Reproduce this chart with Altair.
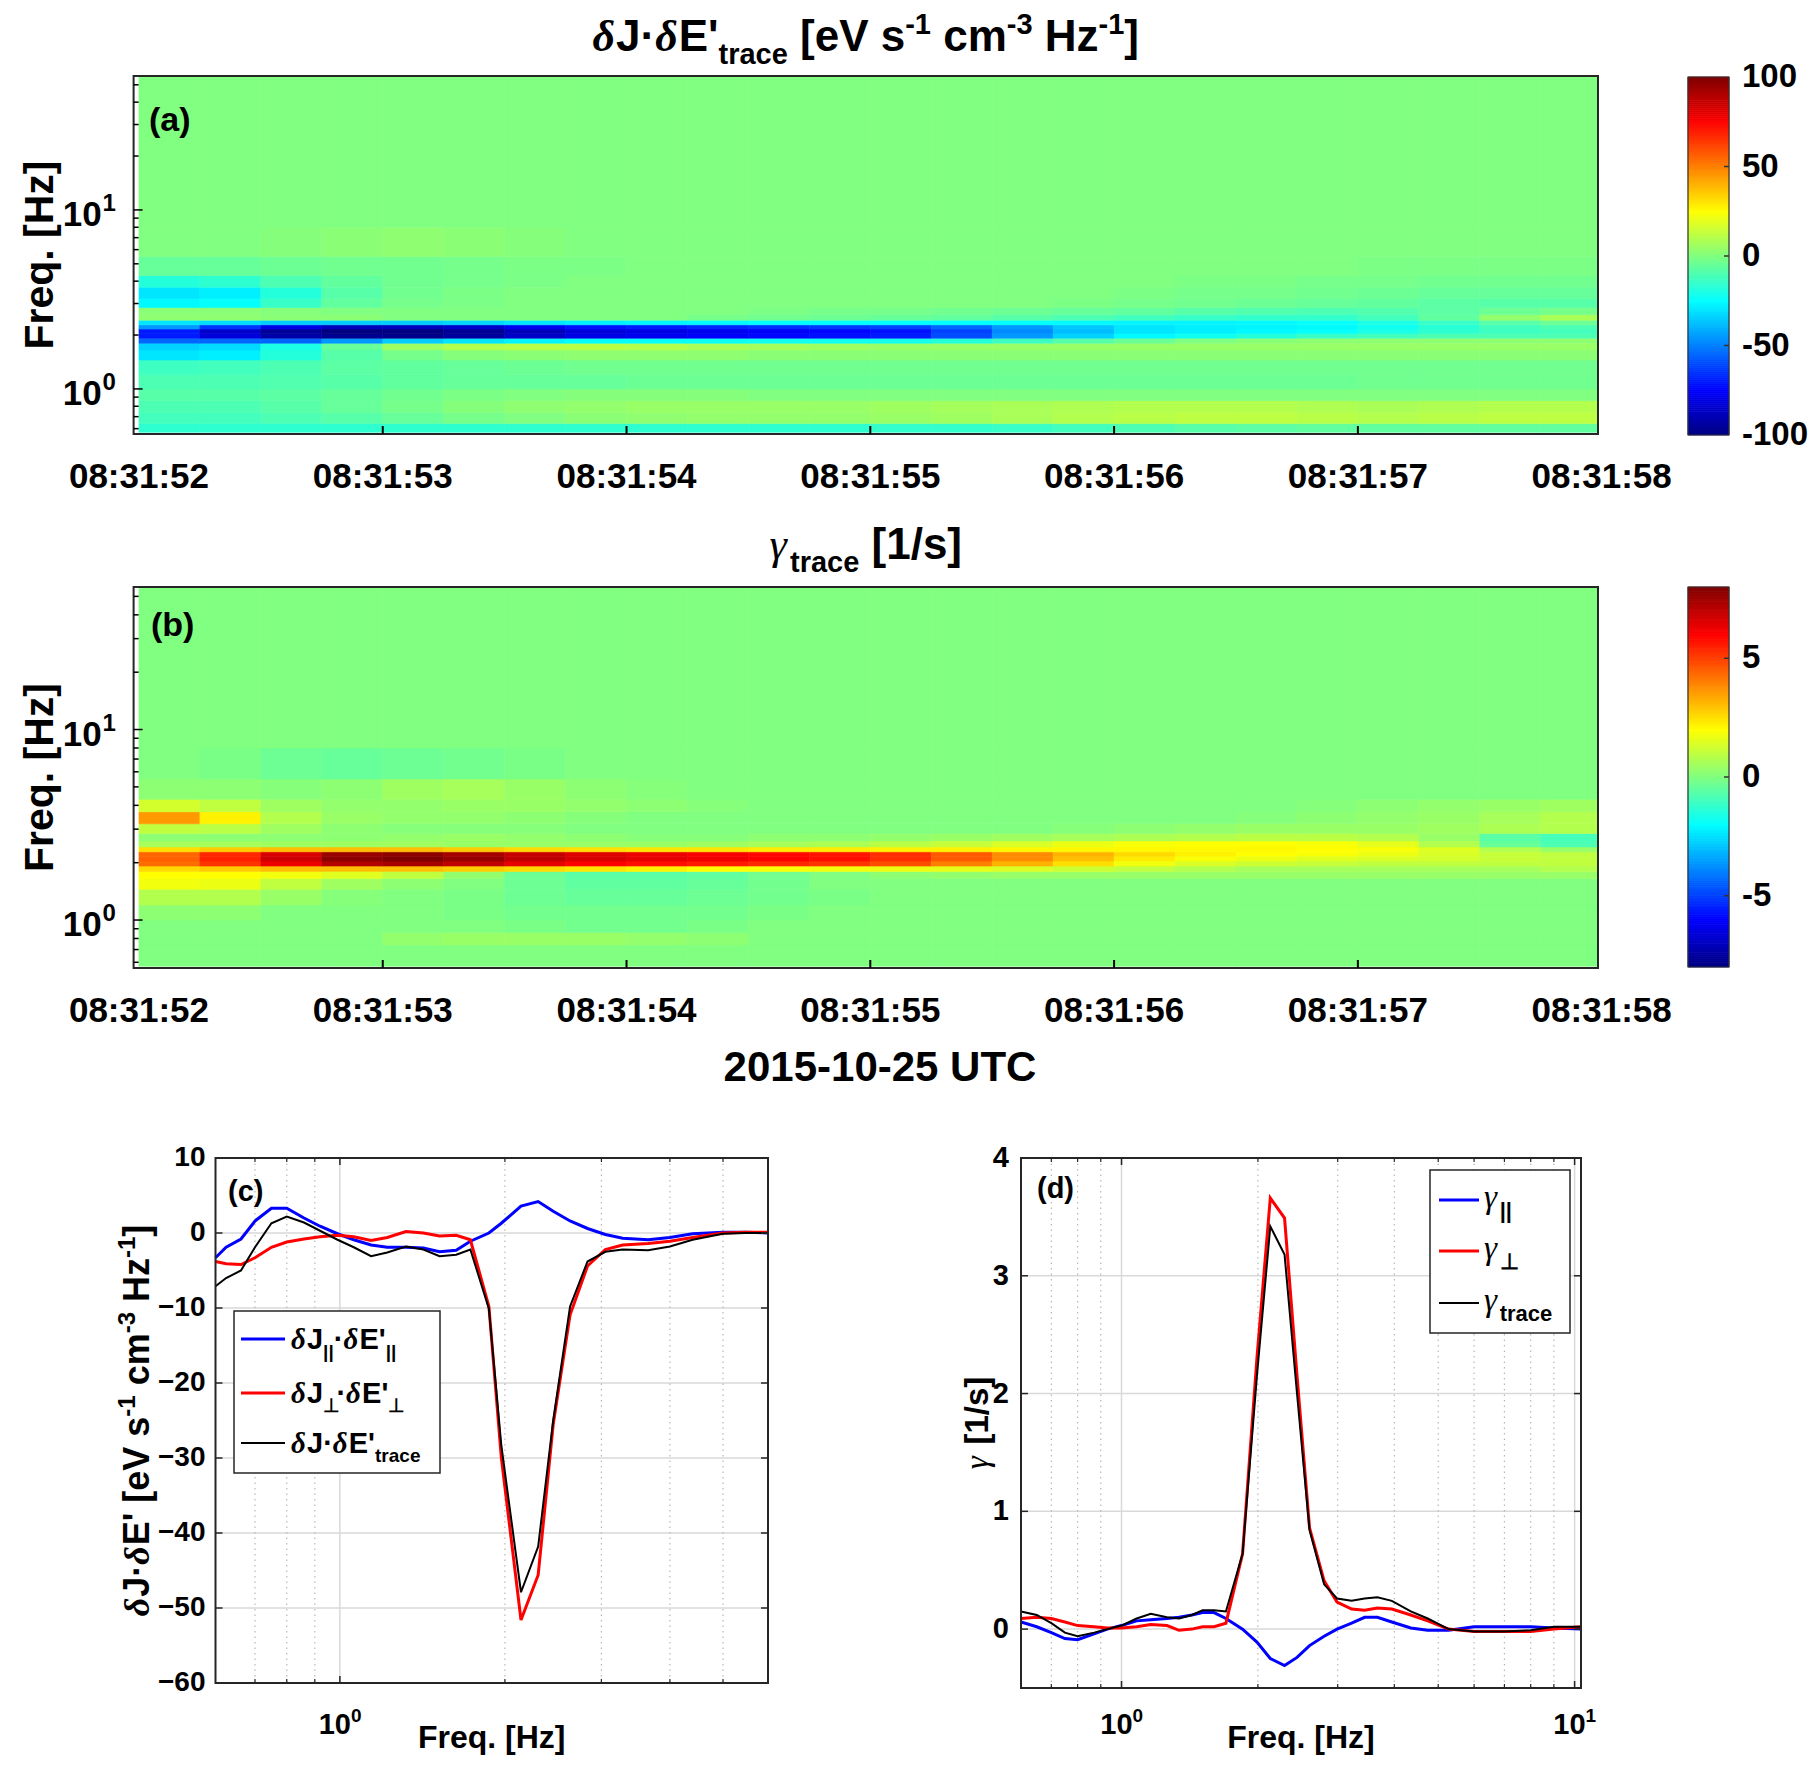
import altair as alt

FONT = "Liberation Sans, Arial, Helvetica, sans-serif"
SERIF = "Liberation Serif, Times New Roman, serif"
CW, CH = 1800, 1760

# ---------------------------------------------------------------- data
T_EDGES = [52.0, 52.25, 52.5, 52.75, 53.0, 53.25, 53.5, 53.75, 54.0, 54.25, 54.5, 54.75,
           55.0, 55.25, 55.5, 55.75, 56.0, 56.25, 56.5, 56.75, 57.0, 57.25, 57.5, 57.75, 57.985]
F_EDGES = [0.572, 0.64, 0.74, 0.86, 1.0, 1.2, 1.45, 1.65, 1.8, 1.92, 2.04, 2.16, 2.28,
           2.42, 2.6, 2.85, 3.2, 3.7, 4.3, 5.5, 8.0, 56.0]

# (a) dJ.dE' trace spectrogram, rows = frequency bins (low -> high), cols = time bins
A_ROWS = [
    [-16, -16, -16, -16, -16, -16, -16, -16, -16, -16, -16, -16, -15, -15, -14, -12, -10, -8, -7, -6, -6, -6, -6, -6],
    [-12, -12, -10, -8, -5, -2, 0, 2, 3, 4, 4, 4, 5, 6, 8, 10, 11, 12, 12, 11, 10, 11, 12, 12],
    [-10, -10, -8, -5, -2, 1, 3, 4, 5, 5, 5, 5, 6, 7, 8, 9, 10, 10, 10, 9, 8, 9, 10, 10],
    [-8, -8, -7, -5, -3, -1, 0, 1, 1, 1, 0, 0, 0, 0, 0, 0, 0, 0, 0, 0, 0, 0, 0, 0],
    [-10, -10, -9, -8, -6, -5, -5, -5, -4, -4, -4, -4, -4, -4, -4, -4, -4, -4, -4, -4, -3, -3, -3, -3],
    [-13, -12, -10, -7, -6, -5, -4, -3, -3, -3, -3, -3, -3, -3, -3, -3, -3, -3, -3, -3, -3, -3, -3, -3],
    [-30, -28, -18, -8, -2, 1, 2, 3, 3, 3, 2, 2, 2, 2, 2, 2, 2, 2, 2, 2, 2, 2, 2, 2],
    [-34, -32, -20, -5, 6, 10, 11, 11, 10, 8, 7, 6, 5, 5, 5, 5, 5, 5, 5, 5, 5, 5, 5, 5],
    [-55, -55, -55, -45, -35, -30, -27, -25, -24, -23, -22, -22, -21, -18, -13, -8, -4, 0, 2, 3, 3, 3, 3, 3],
    [-70, -82, -92, -97, -98, -94, -86, -80, -78, -76, -74, -72, -70, -60, -45, -34, -26, -22, -18, -14, -12, -10, -10, -10],
    [-70, -85, -95, -100, -100, -96, -88, -82, -80, -78, -76, -74, -72, -62, -48, -38, -30, -28, -26, -24, -20, -16, -13, -12],
    [-45, -65, -80, -88, -88, -85, -78, -72, -70, -68, -66, -64, -62, -55, -45, -36, -30, -28, -27, -26, -22, -17, -12, -10],
    [-30, -32, -35, -35, -35, -33, -30, -28, -27, -26, -25, -25, -25, -25, -25, -26, -27, -27, -26, -24, -20, -14, -8, -4],
    [3, 3, 2, 2, 0, 0, 0, 0, 0, -2, -3, -4, -5, -6, -8, -10, -12, -14, -15, -15, -12, -6, 4, 8],
    [2, 2, 1, 0, 0, 0, 0, 0, 0, 0, -1, -2, -2, -3, -4, -5, -6, -8, -9, -10, -9, -7, -4, -2],
    [-26, -24, -14, -6, -2, -1, 0, 0, 0, 0, 0, 0, 0, 0, 0, -1, -2, -3, -4, -5, -6, -7, -8, -8],
    [-30, -28, -18, -8, -3, -1, 0, 0, 0, 0, 0, 0, 0, 0, 0, 0, -1, -2, -2, -3, -4, -5, -5, -5],
    [-18, -16, -10, -6, -3, -2, -1, 0, 0, 0, 0, 0, 0, 0, 0, 0, 0, -1, -1, -2, -2, -3, -3, -3],
    [-5, -5, -4, -3, -3, -2, -1, -1, 0, 0, 0, 0, 0, 0, 0, 0, 0, 0, 0, 0, -1, -1, -1, -1],
    [0, 0, 1, 2, 3, 2, 1, 0, 0, 0, 0, 0, 0, 0, 0, 0, 0, 0, 0, 0, 0, 0, 0, 0],
    [0, 0, 0, 0, 0, 0, 0, 0, 0, 0, 0, 0, 0, 0, 0, 0, 0, 0, 0, 0, 0, 0, 0, 0],
]

# (b) gamma trace spectrogram
B_ROWS = [
    [0] * 24,
    [0] * 24,
    [0, 0, 0, 0, 0.3, 0.4, 0.4, 0.4, 0.3, 0.2, 0, 0, 0, 0, 0, 0, 0, 0, 0, 0, 0, 0, 0, 0],
    [0, 0, 0, 0, 0, 0, -0.1, -0.2, -0.2, -0.1, 0, 0, 0, 0, 0, 0, 0, 0, 0, 0, 0, 0, 0, 0],
    [0.2, 0.2, 0, 0, 0, -0.1, -0.2, -0.2, -0.2, -0.2, -0.1, 0, 0, 0, 0, 0, 0, 0, 0, 0, 0, 0, 0, 0],
    [0.8, 0.8, 0.4, 0.1, 0, -0.1, -0.3, -0.4, -0.4, -0.3, -0.2, -0.1, 0, 0, 0, 0, 0, 0, 0, 0, 0, 0, 0, 0],
    [1.8, 1.7, 1.0, 0.5, 0.2, 0, -0.3, -0.5, -0.5, -0.4, -0.2, 0, 0, 0, 0, 0, 0, 0, 0, 0, 0, 0, 0, 0],
    [2.0, 2.0, 1.8, 1.5, 1.0, 0.3, -0.3, -0.6, -0.6, -0.5, -0.2, 0, 0.2, 0.3, 0.4, 0.4, 0.4, 0.4, 0.4, 0.4, 0.4, 0.4, 0.4, 0.4],
    [2.6, 2.8, 3.0, 3.0, 3.0, 2.8, 2.6, 2.4, 2.2, 2.0, 1.9, 1.8, 1.7, 1.6, 1.4, 1.2, 1.0, 0.8, 0.6, 0.6, 0.6, 0.6, 0.6, 0.8],
    [4.3, 5.2, 6.3, 7.2, 7.4, 7.0, 6.4, 6.0, 5.8, 5.6, 5.4, 5.2, 4.8, 4.0, 3.2, 2.5, 1.8, 1.4, 1.2, 1.1, 1.0, 1.0, 1.0, 1.0],
    [4.5, 5.5, 6.8, 7.8, 8.0, 7.6, 7.0, 6.6, 6.4, 6.2, 6.0, 5.8, 5.3, 4.6, 3.8, 3.0, 2.3, 1.9, 1.7, 1.5, 1.4, 1.3, 1.1, 1.0],
    [4.4, 5.4, 6.6, 7.6, 7.8, 7.4, 6.9, 6.5, 6.3, 6.1, 5.9, 5.7, 5.3, 4.6, 3.8, 3.2, 2.6, 2.2, 2.0, 1.9, 1.7, 1.4, 1.1, 1.0],
    [2.5, 2.8, 3.0, 3.0, 3.0, 2.8, 2.6, 2.5, 2.4, 2.4, 2.3, 2.3, 2.2, 2.2, 2.1, 2.1, 2.1, 2.1, 2.1, 2.0, 1.9, 1.5, 0.8, 0.4],
    [0.6, 0.6, 0.5, 0.5, 0.5, 0.4, 0.4, 0.4, 0.4, 0.5, 0.6, 0.7, 0.9, 1.1, 1.4, 1.7, 1.9, 2.0, 2.0, 1.9, 1.6, 0.8, -0.4, -0.8],
    [0.2, 0.2, 0.2, 0.2, 0.3, 0.4, 0.3, 0.2, 0.1, 0.1, 0.2, 0.2, 0.3, 0.4, 0.5, 0.6, 0.7, 0.8, 0.9, 0.9, 0.8, 0.4, -0.6, -0.9],
    [1.0, 0.9, 0.5, 0.2, 0.1, 0.1, 0.1, 0, 0, 0, 0, 0, 0, 0, 0, 0.1, 0.2, 0.3, 0.4, 0.4, 0.4, 0.5, 0.7, 0.8],
    [3.6, 2.2, 0.8, 0.4, 0.3, 0.3, 0.2, 0.1, 0, 0, 0, 0, 0, 0, 0, 0, 0, 0, 0.1, 0.2, 0.3, 0.4, 0.6, 0.8],
    [1.3, 1.0, 0.5, 0.3, 0.3, 0.4, 0.4, 0.3, 0.2, 0.1, 0, 0, 0, 0, 0, 0, 0, 0, 0, 0.1, 0.2, 0.3, 0.4, 0.5],
    [0.2, 0.2, 0.1, 0.2, 0.5, 0.6, 0.4, 0.2, 0.1, 0, 0, 0, 0, 0, 0, 0, 0, 0, 0, 0, 0, 0, 0, 0],
    [0, -0.1, -0.3, -0.4, -0.3, -0.2, -0.1, 0, 0, 0, 0, 0, 0, 0, 0, 0, 0, 0, 0, 0, 0, 0, 0, 0],
    [0] * 24,
]

TIME_TICKS = [52, 53, 54, 55, 56, 57, 58]
TIME_LABELS = ["08:31:52", "08:31:53", "08:31:54", "08:31:55", "08:31:56", "08:31:57", "08:31:58"]
CB_A_TICKS = [-100, -50, 0, 50, 100]
CB_B_TICKS = [-5, 0, 5]

# (c) dJ.dE' vs frequency
FREQ_C = [0.593, 0.62, 0.66, 0.70, 0.75, 0.80, 0.86, 0.92, 0.99, 1.06, 1.14, 1.22, 1.32, 1.42, 1.52, 1.63,
          1.73, 1.87, 1.97, 2.14, 2.30, 2.45, 2.63, 2.83, 3.05, 3.28, 3.65, 4.0, 4.4, 5.0, 5.5, 6.04]
PAR_C = [-3.3, -1.9, -0.8, 1.6, 3.3, 3.3, 2.0, 0.9, -0.1, -0.9, -1.6, -1.9, -1.9, -2.0, -2.5, -2.3,
         -1.1, 0.0, 1.3, 3.6, 4.2, 2.9, 1.6, 0.6, -0.2, -0.7, -0.9, -0.6, -0.1, 0.1, 0.1, 0.0]
PERP_C = [-3.8, -4.1, -4.2, -3.3, -1.9, -1.2, -0.8, -0.5, -0.3, -0.5, -1.0, -0.6, 0.2, 0.0, -0.4, -0.3,
          -0.9, -9.8, -29.9, -51.6, -45.6, -25.5, -10.9, -4.4, -2.2, -1.6, -1.4, -1.1, -0.6, 0.0, 0.1, 0.1]
TRACE_C = [-7.1, -6.0, -5.0, -1.9, 1.3, 2.2, 1.4, 0.3, -0.9, -1.9, -3.1, -2.6, -1.8, -2.2, -3.1, -2.9,
           -2.2, -10.1, -28.3, -47.9, -41.8, -25.0, -9.8, -3.8, -2.5, -2.2, -2.3, -1.8, -0.9, -0.1, 0.0, 0.0]
YC_TICKS = [10, 0, -10, -20, -30, -40, -50, -60]

# (d) gamma vs frequency
FREQ_D = [0.60, 0.65, 0.70, 0.75, 0.80, 0.87, 0.93, 1.0, 1.08, 1.16, 1.26, 1.34, 1.43, 1.51, 1.60, 1.70,
          1.85, 1.99, 2.13, 2.29, 2.44, 2.60, 2.80, 2.99, 3.22, 3.44, 3.67, 3.95, 4.35, 4.74, 5.27, 6.0,
          7.0, 8.0, 9.0, 10.33]
PAR_D = [0.06, 0.02, -0.03, -0.08, -0.09, -0.04, 0.0, 0.03, 0.07, 0.08, 0.09, 0.10, 0.12, 0.14, 0.14, 0.09,
         0.0, -0.11, -0.25, -0.31, -0.24, -0.14, -0.06, 0.0, 0.05, 0.10, 0.10, 0.06, 0.01, -0.01, -0.01, 0.02,
         0.02, 0.02, 0.01, 0.0]
PERP_D = [0.09, 0.10, 0.09, 0.06, 0.03, 0.02, 0.01, 0.01, 0.02, 0.04, 0.03, -0.01, 0.0, 0.02, 0.02, 0.05,
          0.64, 2.3, 3.66, 3.49, 2.15, 0.86, 0.41, 0.23, 0.17, 0.16, 0.18, 0.17, 0.12, 0.07, 0.0, -0.02,
          -0.02, -0.02, 0.0, 0.02]
TRACE_D = [0.15, 0.12, 0.05, -0.03, -0.06, -0.03, 0.0, 0.03, 0.09, 0.13, 0.10, 0.09, 0.12, 0.16, 0.16, 0.15,
           0.64, 2.15, 3.42, 3.18, 2.0, 0.84, 0.38, 0.26, 0.24, 0.26, 0.27, 0.24, 0.15, 0.09, 0.0, -0.02,
           -0.02, -0.01, 0.02, 0.02]
YD_TICKS = [0, 1, 2, 3, 4]

# ---------------------------------------------------------------- layout (plot px)
PA = dict(x0=125.6, x1=1590.0, y0=68.0, y1=426.0)
PB = dict(x0=125.6, x1=1590.0, y0=579.0, y1=960.0)
PC = dict(x0=207.5, x1=760.0, y0=1150.0, y1=1675.0)
PD = dict(x0=1013.0, x1=1573.0, y0=1150.0, y1=1680.0)
CBA = dict(x0=1680.0, x1=1721.0, y0=69.0, y1=427.0)
CBB = dict(x0=1680.0, x1=1721.0, y0=579.0, y1=959.0)

T_DOM = [51.978, 57.985]
F_DOM = [0.56, 56.0]
XC_DOM, YC_DOM = [0.593, 6.04], [-60, 10]
XD_DOM, YD_DOM = [0.60, 10.33], [-0.5, 4]

JET = ["#000080", "#0000ff", "#00ffff", "#80ff80", "#ffff00", "#ff0000", "#800000"]
FRAME = "#262626"
GRID = "#d9d9d9"
MINOR = "#b8b8b8"


def lin(dom, r0, r1):
    return alt.Scale(domain=dom, range=[r0, r1], nice=False, zero=False)


def logs(dom, r0, r1):
    return alt.Scale(type="log", domain=dom, range=[r0, r1], nice=False)


def tscale(P):
    return lin(T_DOM, P["x0"], P["x1"])


def fscale(P):
    return logs(F_DOM, P["y1"], P["y0"])


CS_A = alt.Scale(domain=[-100, -75, -25, 0, 25, 75, 100], range=JET, interpolate="rgb", clamp=True)
CS_B = alt.Scale(domain=[-8, -6, -2, 0, 2, 6, 8], range=JET, interpolate="rgb", clamp=True)
XS_C, YS_C = logs(XC_DOM, PC["x0"], PC["x1"]), lin(YC_DOM, PC["y1"], PC["y0"])
XS_D, YS_D = logs(XD_DOM, PD["x0"], PD["x1"]), lin(YD_DOM, PD["y1"], PD["y0"])

# ---------------------------------------------------------------- text helpers
BOLD_W = {' ': 278, '[': 333, ']': 333, '(': 333, ')': 333, '-': 333, '.': 278, '/': 278, ':': 333,
          "'": 238, '·': 333, '|': 280, 'a': 556, 'c': 556, 'e': 556, 'm': 889, 'r': 389, 's': 556,
          't': 333, 'z': 500, 'q': 611, 'i': 278, 'E': 667, 'F': 611, 'H': 722, 'J': 556, 'V': 667,
          'U': 722, 'T': 611, 'C': 722, '⊥': 700}
SERIF_W = {'γ': 430, 'δ': 500}

TEXT_ROWS = {}


def text_w(s, size, font):
    if font == SERIF:
        return sum(SERIF_W.get(c, 500) for c in s) * size / 1000.0
    return sum(BOLD_W.get(c, 556) for c in s) * size / 1000.0


def add_text(s, x, y, size, weight="bold", style="normal", angle=0, font=FONT):
    TEXT_ROWS.setdefault((size, weight, style, angle, font), []).append({"x": x, "y": y, "s": s})


def G(kind="n", weight="normal"):
    return ("γ", kind, weight, "italic", SERIF)


def D(weight="bold"):
    return ("δ", "n", weight, "italic", SERIF)


def compose(pieces, S, ax, ay, align="center", angle=0, small=None):
    """Lay out a run of text pieces (normal / subscript / superscript) side by side."""
    small = small or round(S * 0.66)
    items, total = [], 0.0
    for p in pieces:
        txt, kind = p[0], p[1]
        weight = p[2] if len(p) > 2 else "bold"
        style = p[3] if len(p) > 3 else "normal"
        font = p[4] if len(p) > 4 else FONT
        size = S if kind == "n" else small
        off = 0.0 if kind == "n" else (0.30 * S if kind == "sub" else -0.38 * S)
        lead = len(txt) - len(txt.lstrip(" "))
        trail = len(txt) - len(txt.rstrip(" "))
        core = txt.strip(" ")
        sp = text_w(" ", size, FONT)
        total += lead * sp
        items.append((core, size, weight, style, font, off, total))
        total += text_w(core, size, font) + trail * sp + (1.5 if style == "italic" else 0)
    start = -total / 2 if align == "center" else (0.0 if align == "left" else -total)
    for txt, size, weight, style, font, off, pos in items:
        if angle == 0:
            add_text(txt, ax + start + pos, ay + off, size, weight, style, 0, font)
        else:
            add_text(txt, ax + off, ay - (start + pos), size, weight, style, angle, font)


def text_layers():
    out = []
    for (size, weight, style, angle, font), rows in TEXT_ROWS.items():
        kw = dict(align="left", baseline="alphabetic", font=font, fontSize=size,
                  fontWeight=weight, fontStyle=style, color="black")
        if angle:
            kw["angle"] = angle
        out.append(alt.Chart(alt.Data(values=rows)).mark_text(**kw).encode(
            x=alt.X("x:Q", scale=None, axis=None), y=alt.Y("y:Q", scale=None, axis=None), text="s:N"))
    return out


def one():
    return alt.Data(values=[{"k": 0}])


def frame(P, width=2.0, fill="transparent", color=FRAME):
    return alt.Chart(one()).mark_rect(fill=fill, stroke=color, strokeWidth=width).encode(
        x=alt.value(P["x0"]), x2=alt.value(P["x1"]), y=alt.value(P["y0"]), y2=alt.value(P["y1"]))


def vrules(vals, xs, y0, y1, color, width, dash=None):
    kw = dict(color=color, strokeWidth=width)
    if dash:
        kw["strokeDash"] = dash
    return alt.Chart(alt.Data(values=[{"v": v} for v in vals])).mark_rule(**kw).encode(
        x=alt.X("v:Q", scale=xs, axis=None), y=alt.value(y0), y2=alt.value(y1))


def hrules(vals, ys, x0, x1, color, width, dash=None):
    kw = dict(color=color, strokeWidth=width)
    if dash:
        kw["strokeDash"] = dash
    return alt.Chart(alt.Data(values=[{"v": v} for v in vals])).mark_rule(**kw).encode(
        y=alt.Y("v:Q", scale=ys, axis=None), x=alt.value(x0), x2=alt.value(x1))


def spec(rows, P, cs):
    recs = [dict(t0=T_EDGES[j], t1=T_EDGES[j + 1], f0=F_EDGES[i], f1=F_EDGES[i + 1], v=v)
            for i, row in enumerate(rows) for j, v in enumerate(row)]
    return alt.Chart(alt.Data(values=recs)).mark_rect(strokeWidth=0.6).encode(
        x=alt.X("t0:Q", scale=tscale(P), axis=None), x2="t1:Q",
        y=alt.Y("f0:Q", scale=fscale(P), axis=None), y2="f1:Q",
        color=alt.Color("v:Q", scale=cs, legend=None),
        stroke=alt.Stroke("v:Q", scale=cs, legend=None))


def colorbar(CB, cs, cdom, ticks, n=180):
    """Colour bar: thin strips sampled through the panel's own colour scale."""
    lo, hi = cdom
    step = (hi - lo) / n
    recs = [{"a": lo + k * step, "b": lo + (k + 1) * step, "m": lo + (k + 0.5) * step} for k in range(n)]
    ys = lin(cdom, CB["y1"], CB["y0"])
    out = [alt.Chart(alt.Data(values=recs)).mark_rect(strokeWidth=0.8).encode(
        x=alt.value(CB["x0"]), x2=alt.value(CB["x1"]),
        y=alt.Y("a:Q", scale=ys, axis=None), y2="b:Q",
        color=alt.Color("m:Q", scale=cs, legend=None),
        stroke=alt.Stroke("m:Q", scale=cs, legend=None))]
    out.append(frame(CB, 1.2, "transparent", "#333333"))
    out.append(hrules([t for t in ticks if lo < t < hi], ys, CB["x1"] - 5, CB["x1"], "#333333", 1.5))
    out.append(alt.Chart(alt.Data(values=[{"v": t, "s": str(t)} for t in ticks])).mark_text(
        align="left", baseline="middle", font=FONT, fontSize=33, fontWeight="bold", color="black").encode(
        x=alt.value(CB["x1"] + 13), y=alt.Y("v:Q", scale=ys, axis=None), text="s:N"))
    return out


def line(freqs, vals, xs, ys, color, width):
    return alt.Chart(alt.Data(values=[{"f": f, "v": v} for f, v in zip(freqs, vals)])).mark_line(
        color=color, strokeWidth=width).encode(
        x=alt.X("f:Q", scale=xs, axis=None), y=alt.Y("v:Q", scale=ys, axis=None))


L = []

# ---------------------------------------------------------------- spectrogram panels
F_MINOR = [0.6, 0.7, 0.8, 0.9, 2, 3, 4, 5, 6, 7, 8, 9, 20, 30, 40, 50]
F_MAJOR = [1, 10]
for P, rows, cs, CB, cticks, cdom, tick_base in [
        (PA, A_ROWS, CS_A, CBA, CB_A_TICKS, [-100, 100], 480),
        (PB, B_ROWS, CS_B, CBB, CB_B_TICKS, [-8, 8], 1014)]:
    L.append(spec(rows, P, cs))
    L.append(frame(P, 2.0))
    ys = fscale(P)
    L.append(hrules(F_MINOR, ys, P["x0"], P["x0"] + 5, "black", 1.5))
    L.append(hrules(F_MAJOR, ys, P["x0"], P["x0"] + 9, "black", 1.5))
    L.append(vrules(TIME_TICKS[1:-1], tscale(P), P["y1"], P["y1"] - 8, "black", 2))
    L.append(alt.Chart(alt.Data(values=[{"t": t, "s": s} for t, s in zip(TIME_TICKS, TIME_LABELS)])).mark_text(
        align="center", baseline="alphabetic", font=FONT, fontSize=35, fontWeight="bold", color="black").encode(
        x=alt.X("t:Q", scale=tscale(P), axis=None), y=alt.value(tick_base), text="s:N"))
    fl = [{"f": 1, "b": "10", "e": "0"}, {"f": 10, "b": "10", "e": "1"}]
    L.append(alt.Chart(alt.Data(values=fl)).mark_text(
        align="right", baseline="alphabetic", font=FONT, fontSize=35, fontWeight="bold", color="black", dy=16).encode(
        x=alt.value(P["x0"] - 32), y=alt.Y("f:Q", scale=ys, axis=None), text="b:N"))
    L.append(alt.Chart(alt.Data(values=fl)).mark_text(
        align="left", baseline="alphabetic", font=FONT, fontSize=24, fontWeight="bold", color="black", dy=1).encode(
        x=alt.value(P["x0"] - 31), y=alt.Y("f:Q", scale=ys, axis=None), text="e:N"))
    L.extend(colorbar(CB, cs, cdom, cticks))
    compose([("Freq. [Hz]", "n")], 41, 45, (P["y0"] + P["y1"]) / 2, angle=270)

cx = (PA["x0"] + PA["x1"]) / 2
compose([D(), ("J·", "n"), D(), ("E'", "n"),
         ("trace", "sub"), (" [eV s", "n"), ("-1", "sup"), (" cm", "n"), ("-3", "sup"),
         (" Hz", "n"), ("-1", "sup"), ("]", "n")], 44, cx, 43)
compose([G(), ("trace", "sub"), (" [1/s]", "n")], 44, cx, 551)
compose([("2015-10-25 UTC", "n")], 42, 872, 1073)
add_text("(a)", 141, 123, 34)
add_text("(b)", 143, 628, 34)

# ---------------------------------------------------------------- panel (c)
C_MINOR = [0.7, 0.8, 0.9, 2, 3, 4, 5]
inner_c = [v for v in YC_TICKS if YC_DOM[0] < v < YC_DOM[1]]
L.append(hrules(inner_c, YS_C, PC["x0"], PC["x1"], GRID, 1.5))
L.append(vrules([1], XS_C, PC["y0"], PC["y1"], GRID, 1.5))
L.append(vrules(C_MINOR, XS_C, PC["y0"], PC["y1"], MINOR, 1.2, [1.5, 4]))
L.append(line(FREQ_C, PAR_C, XS_C, YS_C, "#0000ff", 3))
L.append(line(FREQ_C, PERP_C, XS_C, YS_C, "#ff0000", 3))
L.append(line(FREQ_C, TRACE_C, XS_C, YS_C, "#000000", 2))
L.append(frame(PC, 2.0))
L.append(hrules(inner_c, YS_C, PC["x0"], PC["x0"] + 7, FRAME, 1.5))
L.append(hrules(inner_c, YS_C, PC["x1"] - 7, PC["x1"], FRAME, 1.5))
L.append(vrules([1], XS_C, PC["y1"], PC["y1"] - 7, FRAME, 1.5))
L.append(vrules([1], XS_C, PC["y0"], PC["y0"] + 7, FRAME, 1.5))
L.append(vrules(C_MINOR, XS_C, PC["y1"], PC["y1"] - 4, FRAME, 1.2))
L.append(vrules(C_MINOR, XS_C, PC["y0"], PC["y0"] + 4, FRAME, 1.2))
L.append(alt.Chart(alt.Data(values=[{"v": v, "s": str(v).replace("-", "\u2212")} for v in YC_TICKS])).mark_text(
    align="right", baseline="middle", font=FONT, fontSize=28, fontWeight="bold", color="black").encode(
    x=alt.value(PC["x0"] - 10), y=alt.Y("v:Q", scale=YS_C, axis=None), text="s:N"))

# ---------------------------------------------------------------- panel (d)
D_MINOR = [0.7, 0.8, 0.9, 2, 3, 4, 5, 6, 7, 8, 9]
inner_d = [v for v in YD_TICKS if YD_DOM[0] < v < YD_DOM[1]]
L.append(hrules(inner_d, YS_D, PD["x0"], PD["x1"], GRID, 1.5))
L.append(vrules([1, 10], XS_D, PD["y0"], PD["y1"], GRID, 1.5))
L.append(vrules(D_MINOR, XS_D, PD["y0"], PD["y1"], MINOR, 1.2, [1.5, 4]))
L.append(line(FREQ_D, PAR_D, XS_D, YS_D, "#0000ff", 3))
L.append(line(FREQ_D, PERP_D, XS_D, YS_D, "#ff0000", 3))
L.append(line(FREQ_D, TRACE_D, XS_D, YS_D, "#000000", 2))
L.append(frame(PD, 2.0))
L.append(hrules(inner_d, YS_D, PD["x0"], PD["x0"] + 7, FRAME, 1.5))
L.append(hrules(inner_d, YS_D, PD["x1"] - 7, PD["x1"], FRAME, 1.5))
L.append(vrules([1, 10], XS_D, PD["y1"], PD["y1"] - 7, FRAME, 1.5))
L.append(vrules([1, 10], XS_D, PD["y0"], PD["y0"] + 7, FRAME, 1.5))
L.append(vrules(D_MINOR, XS_D, PD["y1"], PD["y1"] - 4, FRAME, 1.2))
L.append(vrules(D_MINOR, XS_D, PD["y0"], PD["y0"] + 4, FRAME, 1.2))
L.append(alt.Chart(alt.Data(values=[{"v": v, "s": str(v)} for v in YD_TICKS])).mark_text(
    align="right", baseline="middle", font=FONT, fontSize=29, fontWeight="bold", color="black").encode(
    x=alt.value(PD["x0"] - 12), y=alt.Y("v:Q", scale=YS_D, axis=None), text="s:N"))

for xs, vals in [(XS_C, [1]), (XS_D, [1, 10])]:
    dat = [{"f": f, "b": "10", "e": "0" if f == 1 else "1"} for f in vals]
    L.append(alt.Chart(alt.Data(values=dat)).mark_text(
        align="right", baseline="alphabetic", font=FONT, fontSize=29, fontWeight="bold", color="black", dx=11).encode(
        x=alt.X("f:Q", scale=xs, axis=None), y=alt.value(1726), text="b:N"))
    L.append(alt.Chart(alt.Data(values=dat)).mark_text(
        align="left", baseline="alphabetic", font=FONT, fontSize=19, fontWeight="bold", color="black", dx=11).encode(
        x=alt.X("f:Q", scale=xs, axis=None), y=alt.value(1714), text="e:N"))

compose([("Freq. [Hz]", "n")], 32, (PC["x0"] + PC["x1"]) / 2, 1740)
compose([("Freq. [Hz]", "n")], 32, (PD["x0"] + PD["x1"]) / 2, 1740)
compose([D(), ("J·", "n"), D(), ("E' [eV s", "n"),
         ("-1", "sup"), (" cm", "n"), ("-3", "sup"), (" Hz", "n"), ("-1", "sup"), ("]", "n")],
        36, 141, (PC["y0"] + PC["y1"]) / 2, angle=270)
compose([G(), (" [1/s]", "n")], 33, 980, (PD["y0"] + PD["y1"]) / 2, angle=270)
add_text("(c)", 220, 1193, 29)
add_text("(d)", 1029, 1190, 29)

# ---------------------------------------------------------------- line legends
LEG_C = dict(x0=226, x1=432, y0=1303, y1=1465)
L.append(frame(LEG_C, 1.5, "white"))
for r, col, w in [(1331, "#0000ff", 3), (1385, "#ff0000", 3), (1435, "#000000", 2)]:
    L.append(alt.Chart(one()).mark_rule(color=col, strokeWidth=w).encode(
        x=alt.value(233), x2=alt.value(277), y=alt.value(r)))
compose([D(), ("J", "n"), ("||", "sub"), ("·", "n"), D(), ("E'", "n"), ("||", "sub")],
        29, 283, 1341, align="left")
compose([D(), ("J", "n"), ("⊥", "sub"), ("·", "n"), D(), ("E'", "n"), ("⊥", "sub")],
        29, 283, 1395, align="left")
compose([D(), ("J·", "n"), D(), ("E'", "n"), ("trace", "sub")], 29, 283, 1445, align="left")

LEG_D = dict(x0=1422, x1=1562, y0=1162, y1=1325)
L.append(frame(LEG_D, 1.5, "white"))
for r, col, w in [(1192, "#0000ff", 3), (1243, "#ff0000", 3), (1295, "#000000", 2)]:
    L.append(alt.Chart(one()).mark_rule(color=col, strokeWidth=w).encode(
        x=alt.value(1431), x2=alt.value(1471), y=alt.value(r)))
compose([G(), ("||", "sub")], 33, 1476, 1200, align="left")
compose([G(), ("⊥", "sub")], 33, 1476, 1251, align="left")
compose([G(), ("trace", "sub")], 33, 1476, 1303, align="left")

L.extend(text_layers())

chart = alt.layer(*L).resolve_scale(
    x="independent", y="independent", color="independent", stroke="independent"
).properties(
    width=CW, height=CH, autosize=alt.AutoSizeParams(type="none"), padding=0, background="white"
).configure_view(strokeWidth=0)

chart.save("out.html", embed_options={"renderer": "svg", "actions": False})
